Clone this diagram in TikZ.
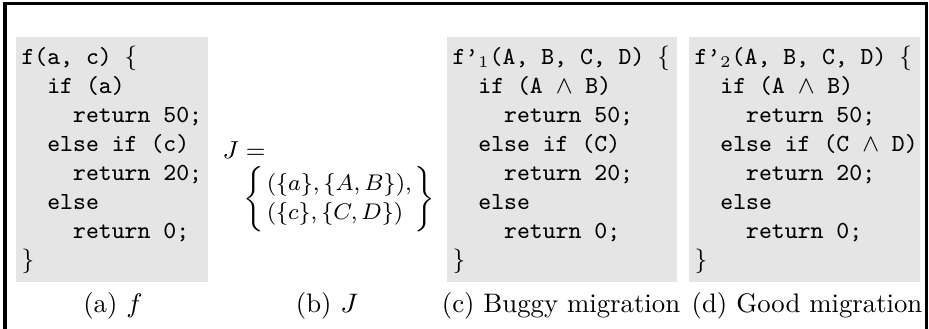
\RequirePackage{fix-cm}
\documentclass[tikz,border=0pt]{standalone}
\newcommand\ci{\hspace*{1.05em}}% two typewriter columns of indentation
\begin{document}
\begin{tikzpicture}[x=0.3663pt,y=-0.3663pt,
  codebg/.style={fill=black!10,draw=none},
  code/.style={anchor=base west,inner sep=0pt,align=left,
    font=\fontsize{9}{10.62}\selectfont\ttfamily},
  mathtext/.style={inner sep=0pt,font=\fontsize{8.3}{10.6}\selectfont},
  caption/.style={anchor=base,inner sep=0pt,font=\fontsize{9.8}{12}\selectfont}]
\useasboundingbox (0,0) rectangle (929,329);
% open frame: left, top and right rules
\draw[line width=1.1pt] (5,329) -- (5,3.3) -- (926.7,3.3) -- (926.7,329);

% shaded code panels
\fill[codebg] (16,37.5) rectangle (208,282.5);
\fill[codebg] (447,37.5) rectangle (677,282.5);
\fill[codebg] (689,37.5) rectangle (920,282.5);

% (a) original function (anchored at the baseline of its last line)
\node[code] (fa) at (21,267.5) {f(a, c) $\{$\\
\ci if (a)\\
\ci\ci return 50;\\
\ci else if (c)\\
\ci\ci return 20;\\
\ci else\\
\ci\ci return 0;\\
$\}$};

% (b) the set J
\node[mathtext,anchor=base west,font=\fontsize{9}{11}\selectfont] (jlhs) at (222,159) {$J =$};
\node[mathtext,anchor=west] (jset) at (243,199)
  {$\left\{\begin{array}{@{\hspace{1pt}}l@{\hspace{1pt}}}
  (\{a\},\{A,B\}),\\
  (\{c\},\{C,D\})
  \end{array}\right\}$};

% (c) buggy migration
\node[code] (fc) at (452,267.5) {f\textquoteright$_1$(A, B, C, D) $\{$\\
\ci if (A $\wedge$ B)\\
\ci\ci return 50;\\
\ci else if (C)\\
\ci\ci return 20;\\
\ci else\\
\ci\ci return 0;\\
$\}$};

% (d) good migration
\node[code] (fd) at (694,267.5) {f\textquoteright$_2$(A, B, C, D) $\{$\\
\ci if (A $\wedge$ B)\\
\ci\ci return 50;\\
\ci else if (C $\wedge$ D)\\
\ci\ci return 20;\\
\ci else\\
\ci\ci return 0;\\
$\}$};

% sub-captions
\node[caption] (capa) at (113,313) {(a) $f$};
\node[caption] (capb) at (327,313) {(b) $J$};
\node[caption] (capc) at (561,313) {(c) Buggy migration};
\node[caption] (capd) at (807,313) {(d) Good migration};
\end{tikzpicture}
\end{document}
